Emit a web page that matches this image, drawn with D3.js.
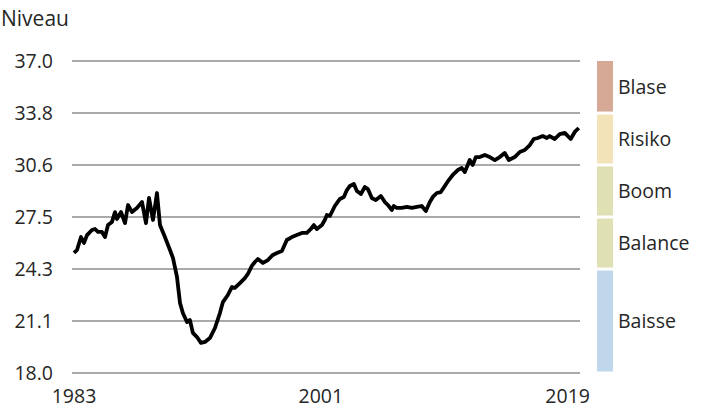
<!DOCTYPE html>
<html lang="de">
<head>
  <meta charset="UTF-8">
  <title>Niveau</title>
  <script src="https://d3js.org/d3.v7.min.js"></script>
  <style>
    body { margin: 0; background: #fff; }
    svg text { font-family: "Open Sans", sans-serif; font-size: 19.5px; fill: #262626; }
  </style>
</head>
<body>
  <div id="chart"></div>
  <script>
    // series (decimal year, level)
    const years = [
      1983.00, 1983.22, 1983.51, 1983.73, 1983.95, 1984.31, 1984.53, 1984.75, 1985.04, 1985.26,
      1985.48, 1985.77, 1985.99, 1986.13, 1986.43, 1986.72, 1986.94, 1987.23, 1987.59, 1987.96,
      1988.25, 1988.47, 1988.76, 1989.05, 1989.27, 1989.63, 1990.00, 1990.22, 1990.51, 1990.73,
      1990.94, 1991.24, 1991.45, 1991.67, 1991.97, 1992.26, 1992.55, 1992.91, 1993.28, 1993.64,
      1993.86, 1994.22, 1994.52, 1994.73, 1995.10, 1995.46, 1995.68, 1995.97, 1996.19, 1996.41,
      1996.78, 1997.14, 1997.50, 1997.80, 1998.16, 1998.52, 1998.89, 1999.25, 1999.62, 1999.98,
      2000.27, 2000.49, 2000.71, 2001.08, 2001.29, 2001.44, 2001.66, 2002.02, 2002.39, 2002.68,
      2002.90, 2003.12, 2003.41, 2003.63, 2003.92, 2004.21, 2004.43, 2004.72, 2005.01, 2005.38,
      2005.67, 2005.89, 2006.18, 2006.32, 2006.54, 2006.91, 2007.27, 2007.64, 2008.00, 2008.36,
      2008.66, 2008.95, 2009.17, 2009.46, 2009.75, 2010.04, 2010.33, 2010.62, 2010.99, 2011.28,
      2011.50, 2011.86, 2012.08, 2012.30, 2012.59, 2012.96, 2013.32, 2013.69, 2014.05, 2014.41,
      2014.71, 2015.14, 2015.51, 2015.87, 2016.24, 2016.53, 2016.82, 2017.18, 2017.48, 2017.69,
      2018.06, 2018.42, 2018.79, 2019.22, 2019.52, 2019.81
    ];
    const levels = [
      25.31, 25.49, 26.28, 25.92, 26.40, 26.71, 26.77, 26.59, 26.59, 26.28,
      27.01, 27.20, 27.80, 27.38, 27.80, 27.13, 28.23, 27.80, 28.05, 28.41,
      27.13, 28.66, 27.32, 28.96, 27.01, 26.28, 25.49, 25.00, 23.85, 22.26,
      21.65, 21.11, 21.23, 20.44, 20.19, 19.83, 19.89, 20.13, 20.74, 21.65,
      22.32, 22.75, 23.24, 23.18, 23.48, 23.78, 24.03, 24.52, 24.76, 24.94,
      24.70, 24.88, 25.19, 25.31, 25.43, 26.10, 26.28, 26.40, 26.53, 26.53,
      26.77, 27.01, 26.77, 27.01, 27.32, 27.62, 27.56, 28.17, 28.60, 28.72,
      29.14, 29.39, 29.51, 29.08, 28.90, 29.33, 29.20, 28.66, 28.53, 28.78,
      28.41, 28.23, 27.93, 28.17, 28.05, 28.05, 28.11, 28.05, 28.11, 28.17,
      27.86, 28.41, 28.72, 28.96, 29.02, 29.39, 29.75, 30.06, 30.36, 30.48,
      30.24, 30.97, 30.67, 31.15, 31.15, 31.28, 31.15, 30.97, 31.15, 31.40,
      30.97, 31.15, 31.46, 31.58, 31.88, 32.25, 32.31, 32.43, 32.31, 32.43,
      32.25, 32.55, 32.62, 32.25, 32.68, 32.92
    ];

    const yTickLabels = ["18.0", "21.1", "24.3", "27.5", "30.6", "33.8", "37.0"];
    const xTickYears = [1983, 2001, 2019];

    const zoneNames = ["Blase", "Risiko", "Boom", "Balance", "Baisse"];
    const zoneUpper = [37.0, 33.83, 30.67, 27.5, 24.33];
    const zoneLower = [33.83, 30.67, 27.5, 24.33, 18.0];
    const zoneColors = ["#d5a996", "#f2e3b9", "#dfe0b3", "#dfe0b3", "#bfd6eb"];

    const width = 704;
    const height = 410;

    const svg = d3.select("#chart")
      .append("svg")
      .attr("width", width)
      .attr("height", height);

    const x = d3.scaleLinear().domain([1983, 2019.9]).range([74, 580]);
    const y = d3.scaleLinear().domain([18, 37]).range([373, 61]);

    const yTickValues = d3.range(yTickLabels.length).map(i => 18 + i * 19 / (yTickLabels.length - 1));

    // grid lines
    svg.append("g")
      .selectAll("line")
      .data(yTickValues)
      .enter().append("line")
      .attr("x1", 72)
      .attr("x2", 580)
      .attr("y1", d => y(d))
      .attr("y2", d => y(d))
      .attr("stroke", "#8e8e8e")
      .attr("stroke-width", 1.6);

    // y labels
    svg.append("g")
      .selectAll("text")
      .data(yTickValues)
      .enter().append("text")
      .attr("x", 53)
      .attr("y", d => y(d))
      .attr("dy", "0.35em")
      .attr("text-anchor", "end")
      .text((d, i) => yTickLabels[i]);

    svg.append("text")
      .attr("x", 1)
      .attr("y", 26)
      .style("font-size", "21px")
      .text("Niveau");

    // x labels
    svg.append("g")
      .selectAll("text")
      .data(xTickYears)
      .enter().append("text")
      .attr("x", d => x(d))
      .attr("y", 403)
      .attr("text-anchor", "middle")
      .text(d => d);

    // level line
    const line = d3.line()
      .x((d, i) => x(years[i]))
      .y(d => y(d));

    svg.append("path")
      .datum(levels)
      .attr("fill", "none")
      .attr("stroke", "#000")
      .attr("stroke-width", 3.8)
      .attr("stroke-linejoin", "round")
      .attr("d", line);

    // zone legend
    const legend = svg.append("g");

    legend.selectAll("rect")
      .data(zoneNames)
      .enter().append("rect")
      .attr("x", 597)
      .attr("y", (d, i) => y(zoneUpper[i]) + (i === 0 ? 0 : 1.5))
      .attr("width", 16)
      .attr("height", (d, i) => y(zoneLower[i]) - y(zoneUpper[i]) - (i === 0 ? 1.5 : 3))
      .attr("fill", (d, i) => zoneColors[i]);

    legend.selectAll("text")
      .data(zoneNames)
      .enter().append("text")
      .attr("x", 618)
      .attr("y", (d, i) => (y(zoneUpper[i]) + y(zoneLower[i])) / 2)
      .attr("dy", "0.35em")
      .text(d => d);
  </script>
</body>
</html>
